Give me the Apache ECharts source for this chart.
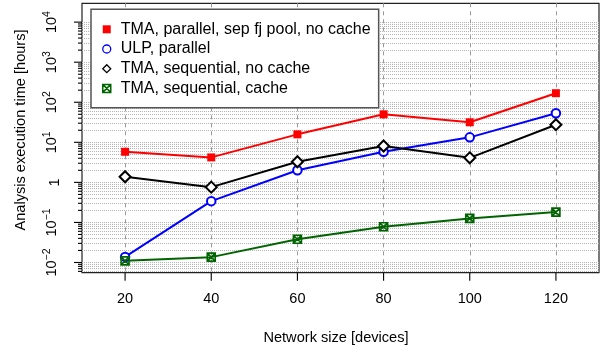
<!DOCTYPE html>
<html>
<head>
<meta charset="utf-8">
<script src="https://cdn.jsdelivr.net/npm/echarts@6/dist/echarts.min.js"></script>
<style>
  html, body { margin: 0; padding: 0; background: #fff; }
  #chart { width: 605px; height: 350px; }
</style>
</head>
<body>
<div id="chart"></div>
<script>
// Network sizes (devices) on the x axis
const networkSizes = [20, 40, 60, 80, 100, 120];

// Analysis execution time in hours for each configuration
const tmaParallelSepPool   = [5.8, 4.2, 15.8, 50, 31.6, 168];
const ulpParallel          = [0.0138, 0.34, 2.0, 5.8, 13.3, 53];
const tmaSequentialNoCache = [1.38, 0.76, 3.27, 8.1, 4.1, 27.5];
const tmaSequentialCache   = [0.011, 0.0136, 0.038, 0.078, 0.126, 0.181];

const seriesNames = [
  'TMA, parallel, sep fj pool, no cache',
  'ULP, parallel',
  'TMA, sequential, no cache',
  'TMA, sequential, cache'
];

// Axis ticks
const xTickValues = [20, 40, 60, 80, 100, 120];
const yDecadeExponents = [-2, -1, 0, 1, 2, 3, 4];

const FONT = '"Liberation Sans", Arial, Helvetica, sans-serif';
const Y_MIN = -2.255;   // log10 extent of the value axis
const Y_MAX = 4.47;
const X_MIN = 10;
const X_MAX = 130;
const GRID = { left: 82, right: 6, top: 3.3, bottom: 77.3 };

const toLog = v => Math.log10(v);
const points = vals => networkSizes.map((x, i) => [x, toLog(vals[i])]);

// Log grid: m × 10^k for m = 1..9, capped at 10^4
const logGridValues = [];
for (let k = -3; k <= 3; k++) {
  for (let m = 1; m <= 9; m++) {
    const e = k + Math.log10(m);
    if (e >= Y_MIN && e <= Y_MAX) logGridValues.push(e);
  }
}
logGridValues.push(4);

const squareCross = 'path://M0,0H10V10H0Z M0,0L10,10 M10,0L0,10';

const chart = echarts.init(document.getElementById('chart'), null, { renderer: 'canvas' });

chart.setOption({
  animation: false,
  backgroundColor: '#fff',
  grid: Object.assign({ show: true, borderColor: '#222', borderWidth: 1.2 }, GRID),
  xAxis: {
    type: 'value', min: X_MIN, max: X_MAX,
    axisLine: { show: false, onZero: false },
    axisTick: { show: false, customValues: xTickValues },
    axisLabel: {
      customValues: xTickValues, margin: 19,
      fontFamily: FONT, fontSize: 14.5, color: '#000'
    },
    splitLine: { show: true, lineStyle: { color: '#9a9a9a', width: 1, type: [4, 4] } }
  },
  yAxis: [
    {
      type: 'value', min: Y_MIN, max: Y_MAX,
      axisLine: { show: false, onZero: false },
      axisTick: { show: false, customValues: yDecadeExponents },
      axisLabel: {
        customValues: yDecadeExponents, rotate: 90, margin: 20,
        fontFamily: FONT, color: '#000',
        formatter: v => {
          const e = Math.round(v);
          if (e === 0) return '{b|1}';
          return '{b|10}{s|' + (e < 0 ? '\u2212' + (-e) : e) + '}';
        },
        rich: {
          b: { fontFamily: FONT, fontSize: 14.5, color: '#000' },
          s: { fontFamily: FONT, fontSize: 10.5, color: '#000', padding: [0, 0, 9, 0] }
        }
      },
      splitLine: { show: false }
    },
    {
      type: 'value', min: Y_MIN, max: Y_MAX, position: 'left',
      axisLine: { show: false, onZero: false },
      axisTick: { show: false, customValues: logGridValues },
      axisLabel: { show: false },
      splitLine: { show: true, lineStyle: { color: '#b4b4b4', width: 1, type: [1, 1] } }
    }
  ],
  legend: {
    orient: 'vertical', left: 91, top: 9.3,
    padding: [12, 8, 11.4, 11], itemGap: 3.7, itemWidth: 8, itemHeight: 8,
    backgroundColor: '#fff', borderColor: '#555', borderWidth: 1.5, borderRadius: 0,
    textStyle: { fontFamily: FONT, fontSize: 16, color: '#000', lineHeight: 16, padding: [0, 0, 0, 5] },
    data: [
      { name: seriesNames[0], icon: 'rect', itemStyle: { color: '#ff0000', borderWidth: 0 } },
      { name: seriesNames[1], icon: 'circle', itemStyle: { color: '#fff', borderColor: '#0000ff', borderWidth: 1.3 } },
      { name: seriesNames[2], icon: 'diamond', itemStyle: { color: '#fff', borderColor: '#000', borderWidth: 1.3 } },
      { name: seriesNames[3], icon: squareCross, itemStyle: { color: 'rgba(0,0,0,0)', borderColor: '#006400', borderWidth: 1.5 } }
    ]
  },
  series: [
    {
      name: seriesNames[0], type: 'line', data: points(tmaParallelSepPool),
      symbol: 'rect', symbolSize: 8,
      itemStyle: { color: '#ff0000', borderWidth: 0 },
      lineStyle: { color: '#ff0000', width: 2 }
    },
    {
      name: seriesNames[1], type: 'line', data: points(ulpParallel),
      symbol: 'circle', symbolSize: 8.5,
      itemStyle: { color: '#fff', borderColor: '#0000ff', borderWidth: 2 },
      lineStyle: { color: '#0000ff', width: 2 }
    },
    {
      name: seriesNames[2], type: 'line', data: points(tmaSequentialNoCache),
      symbol: 'diamond', symbolSize: 11,
      itemStyle: { color: '#fff', borderColor: '#000', borderWidth: 2 },
      lineStyle: { color: '#000', width: 2 }
    },
    {
      name: seriesNames[3], type: 'line', data: points(tmaSequentialCache),
      symbol: squareCross, symbolSize: 8,
      itemStyle: { color: 'rgba(0,0,0,0)', borderColor: '#006400', borderWidth: 1.6 },
      lineStyle: { color: '#006400', width: 2 }
    }
  ]
});

// Outward tick marks, placed through the axes' own scales
const plotBottom = chart.getHeight() - GRID.bottom;
const plotLeft = GRID.left;
const tickStyle = { stroke: '#000', lineWidth: 1.1 };
const tickMarks = [];
xTickValues.forEach(v => {
  const x = chart.convertToPixel({ xAxisIndex: 0 }, v);
  tickMarks.push({ type: 'line', silent: true, shape: { x1: x, y1: plotBottom, x2: x, y2: plotBottom + 8 }, style: tickStyle });
});
logGridValues.forEach(e => {
  const y = chart.convertToPixel({ yAxisIndex: 0 }, e);
  const major = yDecadeExponents.some(d => Math.abs(d - e) < 1e-9);
  tickMarks.push({ type: 'line', silent: true, shape: { x1: plotLeft - (major ? 8 : 4), y1: y, x2: plotLeft, y2: y }, style: tickStyle });
});

chart.setOption({
  graphic: [
    {
      type: 'text', x: 21, y: 130, rotation: Math.PI / 2, silent: true,
      style: { text: 'Analysis execution time [hours]', fontFamily: FONT, fontSize: 14.6, fill: '#000', align: 'center', verticalAlign: 'middle' }
    },
    {
      type: 'text', x: 336, y: 338, silent: true,
      style: { text: 'Network size [devices]', fontFamily: FONT, fontSize: 14.6, fill: '#000', align: 'center', verticalAlign: 'middle' }
    }
  ].concat(tickMarks)
});
</script>
</body>
</html>
